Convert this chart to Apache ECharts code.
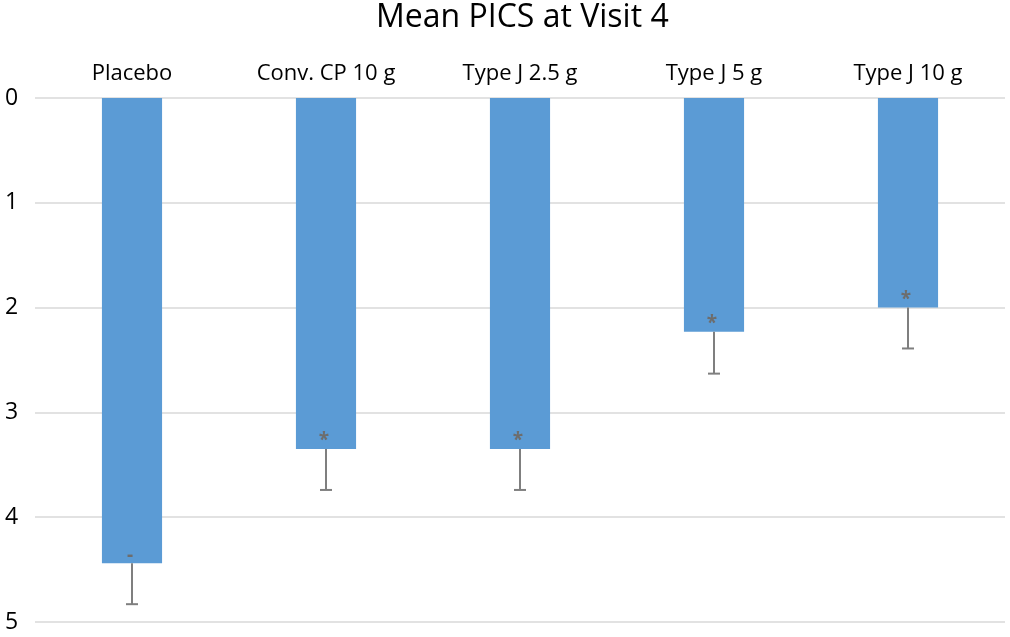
<!DOCTYPE html>
<html>
<head>
<meta charset="utf-8">
<script src="https://cdn.jsdelivr.net/npm/echarts@6/dist/echarts.min.js"></script>
<style>
  html, body { margin: 0; padding: 0; background: #fff; }
  #main { width: 1010px; height: 637px; }
</style>
</head>
<body>
<div id="main"></div>
<script>
// data
const groups = ['Placebo', 'Conv. CP 10 g', 'Type J 2.5 g', 'Type J 5 g', 'Type J 10 g'];
const meanPics = [4.44, 3.35, 3.35, 2.23, 2.0];
const errPics = [0.39, 0.39, 0.39, 0.40, 0.39];
const marks = ['-', '*', '*', '*', '*'];
const yTicks = [0, 1, 2, 3, 4, 5];

const chart = echarts.init(document.getElementById('main'));

const errData = groups.map((g, i) => [i, meanPics[i], errPics[i], marks[i]]);

chart.setOption({
  animation: false,
  textStyle: { fontFamily: 'Open Sans' },
  title: {
    text: 'Mean PICS at Visit 4',
    left: 371,
    top: -3,
    textStyle: { fontSize: 32, fontWeight: 'normal', color: '#000', fontFamily: 'Open Sans' }
  },
  grid: { left: 35, right: 5, top: 98, bottom: 15 },
  xAxis: {
    type: 'category',
    data: groups,
    position: 'top',
    axisLine: { show: false },
    axisTick: { show: false },
    axisLabel: { fontSize: 22, color: '#000', margin: 13 }
  },
  yAxis: {
    type: 'value',
    inverse: true,
    min: yTicks[0],
    max: yTicks[yTicks.length - 1],
    interval: 1,
    axisLine: { show: false },
    axisTick: { show: false },
    axisLabel: { fontSize: 23, color: '#000', margin: 30, align: 'left' },
    splitLine: { lineStyle: { color: '#d9d9d9', width: 1.5 } }
  },
  series: [
    {
      type: 'bar',
      data: meanPics,
      barWidth: '31%',
      itemStyle: { color: '#5b9bd5' }
    },
    {
      type: 'custom',
      data: errData,
      z: 10,
      renderItem: function (params, api) {
        const x = api.value(0);
        const lo = api.coord([x, api.value(1)]);
        const hi = api.coord([x, api.value(1) + api.value(2)]);
        const style = { stroke: '#7f7f7f', lineWidth: 2 };
        return {
          type: 'group',
          children: [
            { type: 'line', shape: { x1: lo[0], y1: lo[1], x2: hi[0], y2: hi[1] }, style: style },
            { type: 'line', shape: { x1: hi[0] - 6, y1: hi[1], x2: hi[0] + 6, y2: hi[1] }, style: style },
            {
              type: 'text',
              x: lo[0] - 2,
              y: lo[1] - 8,
              style: {
                text: marks[params.dataIndex],
                fill: '#6d6d6d',
                fontSize: 19,
                fontWeight: 'bold',
                fontFamily: 'Open Sans',
                align: 'center',
                verticalAlign: 'middle'
              }
            }
          ]
        };
      }
    }
  ]
});
</script>
</body>
</html>
